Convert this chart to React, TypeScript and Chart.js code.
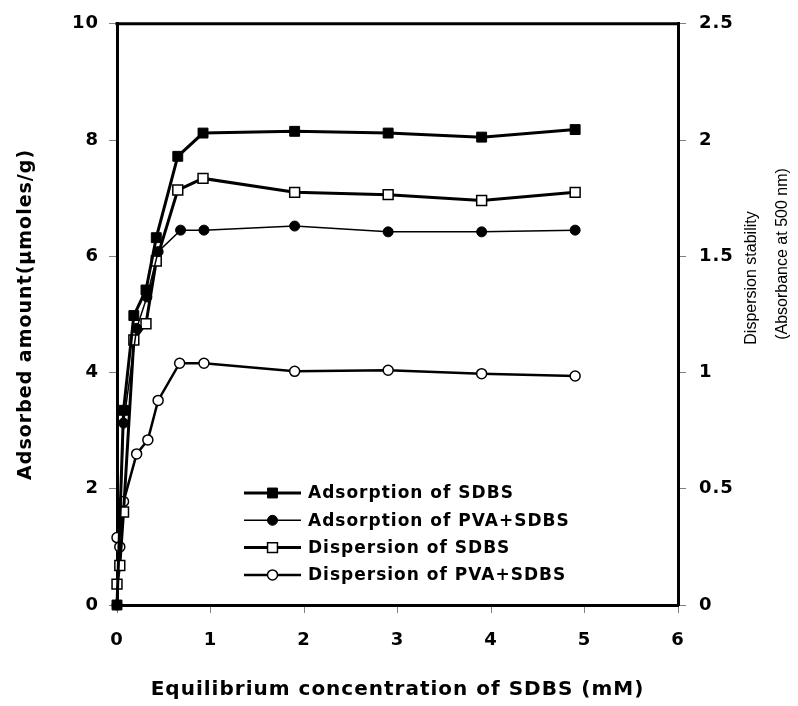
import React, { useEffect, useRef } from "react";
import { Chart, registerables } from "chart.js";

Chart.register(...registerables);

// Adsorption of SDBS (left axis, µmoles/g)
const adsSdbsX = [0, 0.07, 0.18, 0.31, 0.42, 0.65, 0.92, 1.9, 2.9, 3.9, 4.9];
const adsSdbsY = [0, 3.35, 4.98, 5.42, 6.32, 7.72, 8.12, 8.15, 8.12, 8.05, 8.18];

// Adsorption of PVA+SDBS (left axis)
const adsPvaX = [0, 0.07, 0.21, 0.32, 0.44, 0.68, 0.93, 1.9, 2.9, 3.9, 4.9];
const adsPvaY = [0, 3.13, 4.76, 5.3, 6.08, 6.45, 6.45, 6.52, 6.42, 6.42, 6.45];

// Dispersion of SDBS (right axis, absorbance)
const dispSdbsX = [0, 0.03, 0.07, 0.18, 0.31, 0.42, 0.65, 0.92, 1.9, 2.9, 3.9, 4.9];
const dispSdbsY = [0.09, 0.17, 0.4, 1.14, 1.21, 1.48, 1.785, 1.835, 1.775, 1.765, 1.74, 1.775];

// Dispersion of PVA+SDBS (right axis)
const dispPvaX = [0, 0.03, 0.07, 0.21, 0.33, 0.44, 0.67, 0.93, 1.9, 2.9, 3.9, 4.9];
const dispPvaY = [0.29, 0.25, 0.445, 0.65, 0.71, 0.88, 1.04, 1.04, 1.005, 1.01, 0.995, 0.985];

const seriesLabels = [
  "Adsorption of SDBS",
  "Adsorption of PVA+SDBS",
  "Dispersion of SDBS",
  "Dispersion of PVA+SDBS",
];

const xTitle = "Equilibrium concentration of SDBS (mM)";
const yTitle = "Adsorbed amount(µmoles/g)";
const y1Title = ["Dispersion stability", "(Absorbance at 500 nm)"];

const pts = (xs: number[], ys: number[]) => xs.map((x, i) => ({ x, y: ys[i] }));

const BOLD = '"DejaVu Sans", sans-serif';

const spacingPlugin = {
  id: "spacing",
  beforeDraw(chart: any) {
    try {
      (chart.ctx as any).letterSpacing = "1px";
    } catch (e) {}
  },
};

const extrasPlugin = {
  id: "extras",
  afterDraw(chart: any) {
    const { ctx, chartArea } = chart;
    const { left, right, top } = chartArea;
    // top border of the plot box
    ctx.save();
    ctx.strokeStyle = "#000";
    ctx.lineWidth = 3;
    ctx.beginPath();
    ctx.moveTo(left - 1.5, top);
    ctx.lineTo(right + 1.5, top);
    ctx.stroke();
    ctx.restore();

    // legend inside the plot
    ctx.save();
    const lx = left + 127;
    const lineLen = 57;
    const rowY0 = 493;
    const rowGap = 27.3;
    chart.data.datasets.forEach((ds: any, i: number) => {
      const y = rowY0 + i * rowGap;
      ctx.strokeStyle = "#000";
      ctx.lineWidth = ds.borderWidth;
      ctx.beginPath();
      ctx.moveTo(lx, y);
      ctx.lineTo(lx + lineLen, y);
      ctx.stroke();
      const cx = lx + lineLen / 2;
      ctx.fillStyle = ds.pointBackgroundColor;
      ctx.lineWidth = ds.pointBorderWidth;
      ctx.strokeStyle = "#000";
      ctx.beginPath();
      if (ds.pointStyle === "rect") {
        const s = ds.pointRadius * Math.SQRT1_2;
        ctx.rect(cx - s, y - s, 2 * s, 2 * s);
      } else {
        ctx.arc(cx, y, ds.pointRadius, 0, Math.PI * 2);
      }
      ctx.fill();
      ctx.stroke();
      ctx.fillStyle = "#000";
      ctx.font = `bold 17px ${BOLD}`;
      ctx.textAlign = "left";
      ctx.textBaseline = "middle";
      ctx.fillText(ds.label, lx + lineLen + 7, y + 1);
    });
    ctx.restore();

    // right axis title (two lines, regular weight, reading bottom to top)
    ctx.save();
    try {
      (ctx as any).letterSpacing = "0px";
    } catch (e) {}
    ctx.fillStyle = "#000";
    ctx.font = '16px "Liberation Sans", Arial, sans-serif';
    ctx.textAlign = "center";
    ctx.textBaseline = "middle";
    const centers = [
      [right + 74, 278],
      [right + 105, 254],
    ];
    y1Title.forEach((t, i) => {
      ctx.save();
      ctx.translate(centers[i][0], centers[i][1]);
      ctx.rotate(-Math.PI / 2);
      ctx.fillText(t, 0, 0);
      ctx.restore();
    });
    ctx.restore();
  },
};

export default function App() {
  const ref = useRef<HTMLCanvasElement | null>(null);

  useEffect(() => {
    if (!ref.current) return;
    const tickGrid = {
      display: true,
      drawOnChartArea: false,
      drawTicks: true,
      tickLength: 8,
      color: "#808080",
      lineWidth: 1,
    };
    const border = { display: true, width: 3, color: "#000" };
    const tickFont = { family: BOLD, size: 18, weight: "bold" as const };
    const plain = (v: any) => `${Math.round(Number(v) * 100) / 100}`;

    const chart = new Chart(ref.current, {
      type: "line",
      data: {
        datasets: [
          {
            label: seriesLabels[0],
            data: pts(adsSdbsX, adsSdbsY),
            yAxisID: "y",
            borderColor: "#000",
            borderWidth: 3,
            pointStyle: "rect",
            pointRadius: 7,
            pointBackgroundColor: "#000",
            pointBorderColor: "#000",
            pointBorderWidth: 1,
            clip: false,
          },
          {
            label: seriesLabels[1],
            data: pts(adsPvaX, adsPvaY),
            yAxisID: "y",
            borderColor: "#000",
            borderWidth: 1.5,
            pointStyle: "circle",
            pointRadius: 5,
            pointBackgroundColor: "#000",
            pointBorderColor: "#000",
            pointBorderWidth: 1,
            clip: false,
          },
          {
            label: seriesLabels[2],
            data: pts(dispSdbsX, dispSdbsY),
            yAxisID: "y1",
            borderColor: "#000",
            borderWidth: 3,
            pointStyle: "rect",
            pointRadius: 7,
            pointBackgroundColor: "#fff",
            pointBorderColor: "#000",
            pointBorderWidth: 1.5,
            clip: false,
          },
          {
            label: seriesLabels[3],
            data: pts(dispPvaX, dispPvaY),
            yAxisID: "y1",
            borderColor: "#000",
            borderWidth: 2.5,
            pointStyle: "circle",
            pointRadius: 5,
            pointBackgroundColor: "#fff",
            pointBorderColor: "#000",
            pointBorderWidth: 1.5,
            clip: false,
          },
        ],
      },
      options: {
        responsive: true,
        maintainAspectRatio: false,
        animation: false,
        events: [],
        layout: { padding: { top: 21, left: 0, right: 0, bottom: 0 } },
        plugins: {
          legend: { display: false },
          tooltip: { enabled: false },
        },
        scales: {
          x: {
            type: "linear",
            min: 0,
            max: 6,
            grid: tickGrid,
            border,
            ticks: { stepSize: 1, font: tickFont, color: "#000", padding: 17, callback: plain },
            title: {
              display: true,
              text: xTitle,
              font: { family: BOLD, size: 20, weight: "bold" },
              color: "#000",
              padding: { top: 0, bottom: 4 },
            },
            afterFit: (s: any) => {
              s.height = 101;
            },
          },
          y: {
            type: "linear",
            position: "left",
            min: 0,
            max: 10,
            grid: tickGrid,
            border,
            ticks: { stepSize: 2, font: tickFont, color: "#000", padding: 10, callback: plain },
            title: {
              display: true,
              text: yTitle,
              font: { family: BOLD, size: 19, weight: "bold" },
              color: "#000",
              padding: { top: 15, bottom: 0 },
            },
            afterFit: (s: any) => {
              s.width = 117;
            },
          },
          y1: {
            type: "linear",
            position: "right",
            min: 0,
            max: 2.5,
            grid: tickGrid,
            border,
            ticks: { stepSize: 0.5, font: tickFont, color: "#000", padding: 13, callback: plain },
            afterFit: (s: any) => {
              s.width = 120;
            },
          },
        },
      },
      plugins: [spacingPlugin, extrasPlugin],
    } as any);
    return () => chart.destroy();
  }, []);

  return (
    <div
      style={{
        position: "fixed",
        left: 0,
        top: 0,
        width: 798,
        height: 706,
        background: "#fff",
      }}
    >
      <canvas ref={ref} />
    </div>
  );
}
